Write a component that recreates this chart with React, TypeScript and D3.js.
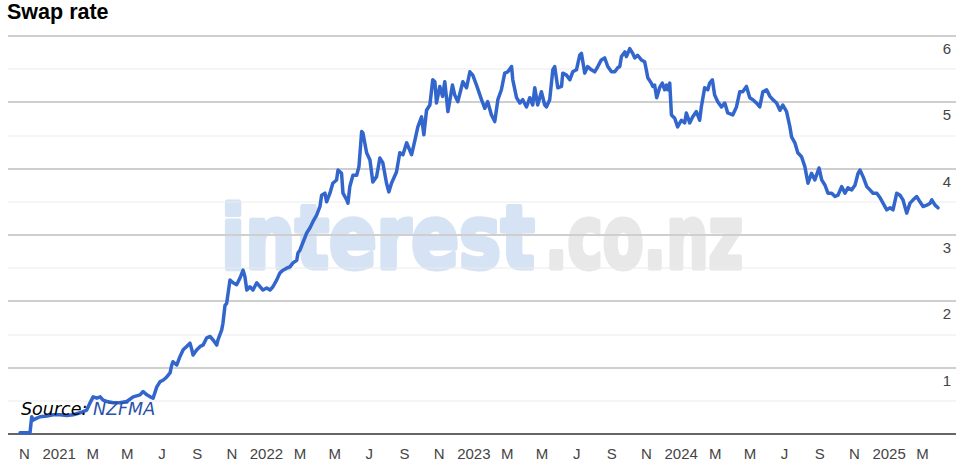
import React from 'react';
import * as d3 from 'd3';

// Decimal-year dates and 2-year swap rates (%)
const years: number[] = [
  2020.812, 2020.860, 2020.868, 2020.875, 2020.893, 2020.908, 2020.941, 2020.971, 2021.005, 2021.037,
  2021.067, 2021.101, 2021.133, 2021.149, 2021.164, 2021.182, 2021.198, 2021.212, 2021.230, 2021.260,
  2021.294, 2021.326, 2021.357, 2021.390, 2021.405, 2021.423, 2021.439, 2021.453, 2021.471, 2021.487,
  2021.501, 2021.519, 2021.535, 2021.543, 2021.549, 2021.567, 2021.583, 2021.598, 2021.615, 2021.631,
  2021.640, 2021.646, 2021.664, 2021.680, 2021.694, 2021.712, 2021.728, 2021.742, 2021.760, 2021.766,
  2021.784, 2021.790, 2021.800, 2021.808, 2021.824, 2021.839, 2021.856, 2021.872, 2021.887, 2021.896,
  2021.905, 2021.920, 2021.935, 2021.953, 2021.969, 2021.983, 2022.001, 2022.017, 2022.031, 2022.049,
  2022.065, 2022.080, 2022.097, 2022.113, 2022.128, 2022.146, 2022.152, 2022.161, 2022.194, 2022.210,
  2022.224, 2022.242, 2022.258, 2022.266, 2022.282, 2022.290, 2022.306, 2022.320, 2022.338, 2022.345,
  2022.362, 2022.369, 2022.387, 2022.393, 2022.402, 2022.417, 2022.435, 2022.446, 2022.459, 2022.465,
  2022.483, 2022.499, 2022.513, 2022.531, 2022.547, 2022.561, 2022.579, 2022.590, 2022.603, 2022.627,
  2022.643, 2022.658, 2022.676, 2022.700, 2022.716, 2022.730, 2022.748, 2022.759, 2022.772, 2022.788,
  2022.802, 2022.812, 2022.820, 2022.836, 2022.849, 2022.860, 2022.875, 2022.897, 2022.908, 2022.923,
  2022.947, 2022.965, 2022.981, 2022.995, 2023.013, 2023.037, 2023.053, 2023.067, 2023.085, 2023.101,
  2023.116, 2023.133, 2023.149, 2023.164, 2023.182, 2023.188, 2023.206, 2023.222, 2023.236, 2023.254,
  2023.270, 2023.284, 2023.294, 2023.308, 2023.326, 2023.342, 2023.350, 2023.366, 2023.381, 2023.390,
  2023.405, 2023.423, 2023.429, 2023.447, 2023.463, 2023.477, 2023.495, 2023.511, 2023.519, 2023.535,
  2023.549, 2023.567, 2023.583, 2023.598, 2023.615, 2023.631, 2023.646, 2023.664, 2023.680, 2023.694,
  2023.704, 2023.712, 2023.728, 2023.736, 2023.752, 2023.766, 2023.776, 2023.790, 2023.808, 2023.824,
  2023.832, 2023.839, 2023.856, 2023.863, 2023.872, 2023.882, 2023.896, 2023.909, 2023.920, 2023.929,
  2023.935, 2023.945, 2023.953, 2023.969, 2023.983, 2024.001, 2024.017, 2024.025, 2024.041, 2024.055,
  2024.073, 2024.089, 2024.097, 2024.113, 2024.128, 2024.137, 2024.150, 2024.161, 2024.176, 2024.194,
  2024.210, 2024.224, 2024.248, 2024.266, 2024.282, 2024.296, 2024.314, 2024.330, 2024.345, 2024.362,
  2024.378, 2024.393, 2024.411, 2024.427, 2024.441, 2024.459, 2024.475, 2024.489, 2024.507, 2024.523,
  2024.531, 2024.547, 2024.561, 2024.579, 2024.595, 2024.610, 2024.627, 2024.643, 2024.663, 2024.676,
  2024.692, 2024.706, 2024.724, 2024.740, 2024.754, 2024.772, 2024.788, 2024.802, 2024.820, 2024.836,
  2024.851, 2024.860, 2024.875, 2024.893, 2024.908, 2024.923, 2024.941, 2024.957, 2024.971, 2024.989,
  2025.005, 2025.019, 2025.037, 2025.053, 2025.067, 2025.085, 2025.101, 2025.116, 2025.133, 2025.149,
  2025.164, 2025.182, 2025.198, 2025.206, 2025.222, 2025.236,
];

const rates: number[] = [
  0.02, 0.02, 0.26, 0.21, 0.24, 0.26, 0.27, 0.29, 0.29, 0.28,
  0.29, 0.32, 0.36, 0.47, 0.56, 0.54, 0.56, 0.51, 0.49, 0.47,
  0.47, 0.49, 0.56, 0.59, 0.64, 0.59, 0.56, 0.54, 0.71, 0.79,
  0.81, 0.86, 0.92, 1.04, 1.09, 1.04, 1.17, 1.27, 1.32, 1.37,
  1.27, 1.19, 1.27, 1.32, 1.34, 1.45, 1.47, 1.42, 1.34, 1.42,
  1.57, 1.67, 1.94, 1.97, 2.32, 2.28, 2.25, 2.35, 2.47, 2.37,
  2.17, 2.22, 2.17, 2.28, 2.22, 2.17, 2.20, 2.17, 2.22, 2.32,
  2.43, 2.47, 2.50, 2.52, 2.58, 2.62, 2.73, 2.77, 3.03, 3.11,
  3.20, 3.30, 3.43, 3.60, 3.63, 3.50, 3.63, 3.78, 3.83, 3.98,
  3.93, 3.63, 3.53, 3.48, 3.73, 3.90, 3.90, 4.03, 4.56, 4.54,
  4.24, 4.13, 3.80, 3.88, 4.16, 4.09, 3.78, 3.65, 3.78, 3.95,
  4.24, 4.21, 4.39, 4.21, 4.43, 4.63, 4.78, 4.51, 4.88, 4.96,
  5.34, 5.31, 4.99, 5.24, 5.09, 5.31, 4.86, 5.26, 5.11, 5.01,
  5.31, 5.22, 5.46, 5.41, 5.26, 5.04, 4.91, 5.01, 4.81, 4.71,
  5.04, 5.19, 5.44, 5.46, 5.54, 5.34, 5.07, 4.99, 5.04, 4.93,
  5.07, 4.96, 5.22, 4.96, 5.16, 4.96, 4.93, 5.04, 5.49, 5.54,
  5.22, 5.24, 5.44, 5.41, 5.34, 5.46, 5.49, 5.71, 5.74, 5.44,
  5.54, 5.49, 5.46, 5.54, 5.64, 5.67, 5.54, 5.46, 5.46, 5.52,
  5.54, 5.69, 5.76, 5.69, 5.81, 5.74, 5.67, 5.71, 5.64, 5.61,
  5.49, 5.37, 5.29, 5.24, 5.26, 5.07, 5.22, 5.29, 5.19, 5.26,
  5.19, 5.29, 4.81, 4.76, 4.63, 4.73, 4.69, 4.84, 4.69, 4.78,
  4.86, 4.73, 4.93, 5.22, 5.19, 5.29, 5.34, 5.11, 5.01, 4.93,
  4.99, 4.84, 4.81, 4.93, 5.16, 5.16, 5.24, 5.07, 5.04, 4.99,
  4.93, 5.16, 5.19, 5.09, 5.04, 4.99, 4.88, 4.96, 4.86, 4.63,
  4.48, 4.39, 4.24, 4.18, 4.03, 3.78, 3.93, 3.83, 4.01, 3.83,
  3.75, 3.63, 3.63, 3.58, 3.60, 3.73, 3.63, 3.71, 3.68, 3.75,
  3.93, 3.98, 3.88, 3.73, 3.68, 3.63, 3.63, 3.56, 3.48, 3.38,
  3.41, 3.38, 3.63, 3.60, 3.53, 3.33, 3.48, 3.53, 3.58, 3.50,
  3.43, 3.45, 3.48, 3.53, 3.45, 3.41,
];

const yLabelValues: number[] = [1, 2, 3, 4, 5, 6];
const gridValues: number[] = [0.5, 1, 1.5, 2, 2.5, 3, 3.5, 4, 4.5, 5, 5.5, 6];

const title = 'Swap rate';
const sourceLabel = 'Source: ';
const sourceName = 'NZFMA';
const watermarkMain = 'interest';
const watermarkTail = '.co.nz';

function decToDate(t: number): Date {
  const y = Math.floor(t);
  const a = new Date(y, 0, 1).getTime();
  const b = new Date(y + 1, 0, 1).getTime();
  return new Date(a + (t - y) * (b - a));
}

export default function App() {
  const W = 961;
  const H = 466;
  const left = 8;
  const right = 955;
  const x = d3
    .scaleTime()
    .domain([decToDate(2020.754), decToDate(2025.318)])
    .range([left, right]);
  const y = d3.scaleLinear().domain([0, 6]).range([434, 36]);

  const data = years.map((t, i) => ({ date: decToDate(t), v: rates[i] }));
  const line = d3
    .line<{ date: Date; v: number }>()
    .x((d) => x(d.date))
    .y((d) => y(d.v));

  const ticks = x.ticks(d3.timeMonth.every(2) as any);
  const fmtMonth = d3.timeFormat('%b');
  const fmtYear = d3.timeFormat('%Y');

  const font = 'Arial, "Liberation Sans", sans-serif';
  const wmFont = '"DejaVu Sans", sans-serif';

  return (
    <svg
      width={W}
      height={H}
      style={{ position: 'absolute', left: 0, top: 0, background: '#fff' }}
    >
      <text x={7} y={19} fontFamily={font} fontWeight="bold" fontSize={21.5} fill="#000">
        {title}
      </text>

      {/* watermark */}
      <g transform="translate(221,268) scale(0.8,1)">
        <text
          x={0}
          y={0}
          fontFamily={wmFont}
          fontWeight="bold"
          fontSize={88}
          fill="#d6e3f4"
          stroke="#d6e3f4"
          strokeWidth={5}
          strokeLinejoin="round"
        >
          {watermarkMain}
        </text>
      </g>
      <g transform="translate(545,268) scale(0.675,1)">
        <text
          x={0}
          y={0}
          fontFamily={wmFont}
          fontWeight="bold"
          fontSize={88}
          fill="#e8e8e8"
          stroke="#e8e8e8"
          strokeWidth={5}
          strokeLinejoin="round"
        >
          {watermarkTail}
        </text>
      </g>

      {/* gridlines */}
      {gridValues.map((g) => {
        const major = Number.isInteger(g);
        const yy = Math.round(y(g));
        return (
          <line
            key={g}
            x1={left}
            x2={right + 1}
            y1={yy}
            y2={yy}
            stroke={major ? '#cfcfcf' : '#ebebeb'}
            strokeWidth={major ? 2 : 1}
          />
        );
      })}

      {/* y labels */}
      {yLabelValues.map((v) => (
        <text
          key={v}
          x={951}
          y={y(v) + 18}
          textAnchor="end"
          fontFamily={font}
          fontSize={15}
          fill="#444"
        >
          {v}
        </text>
      ))}

      {/* baseline axis */}
      <line x1={left} x2={right + 1} y1={434} y2={434} stroke="#333" strokeWidth={1.5} />

      {/* x labels */}
      {ticks.map((d) => (
        <text
          key={d.getTime()}
          x={x(d)}
          y={459}
          textAnchor="middle"
          fontFamily={font}
          fontSize={15}
          fill="#444"
        >
          {d.getMonth() === 0 ? fmtYear(d) : fmtMonth(d).charAt(0)}
        </text>
      ))}

      {/* series line */}
      <path
        d={line(data) || ''}
        fill="none"
        stroke="#3366cc"
        strokeWidth={3.5}
        strokeLinejoin="round"
        strokeLinecap="round"
      />

      {/* source */}
      <text x={21} y={415} fontFamily='"DejaVu Sans", Verdana, sans-serif' fontStyle="italic" fontSize={17.5}>
        <tspan fill="#000">{sourceLabel}</tspan>
        <tspan fill="#2a52a8">{sourceName}</tspan>
      </text>
    </svg>
  );
}
